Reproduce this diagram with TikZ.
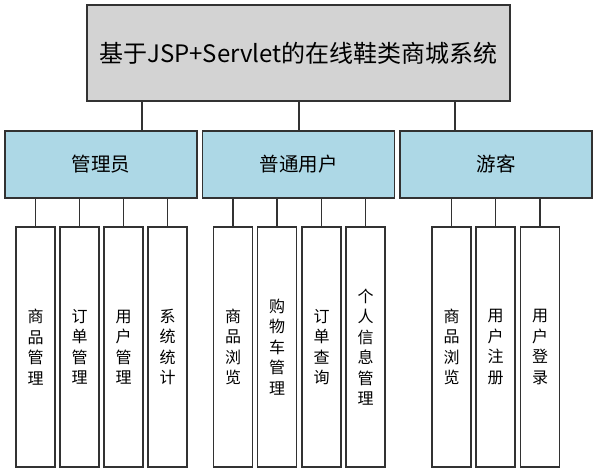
\documentclass[tikz,border=0pt]{standalone}
\usepackage{fontspec}
\setmainfont{Noto Sans CJK SC}
\usepackage{xcolor}
\usepackage{tikz}

\definecolor{topgray}{RGB}{211,211,211}
\definecolor{roleblue}{RGB}{173,216,230}
\definecolor{edgegray}{RGB}{50,50,50}

\tikzset{
    box/.style={draw=edgegray, line width=1.5pt, inner sep=0pt, align=center},
    rolebox/.style={box, fill=roleblue, minimum width=192pt, minimum height=67pt,
        font=\fontsize{19.5}{22}\selectfont},
    leafbox/.style={box, fill=white, minimum width=39pt, minimum height=240pt,
        font=\fontsize{16}{20.5}\selectfont},
    link/.style={draw=edgegray, line width=1.5pt}
}

\begin{document}
\begin{tikzpicture}[x=1pt, y=-1pt]
        \useasboundingbox (0,0) rectangle (597,473);

        \node[box, fill=topgray, minimum width=423pt, minimum height=96pt,
            font=\fontsize{24}{28}\selectfont] (title) at (298.5,53) {基于JSP+Servlet的在线鞋类商城系统};

        \node[rolebox] (admin) at (101,164.5) {管理员};
        \node[rolebox] (user) at (298.5,164.5) {普通用户};
        \node[rolebox] (guest) at (496,164.5) {游客};

        % admin
        \node[leafbox] (a1) at (35.5,347) {商\\品\\管\\理};
        \node[leafbox] (a2) at (79.5,347) {订\\单\\管\\理};
        \node[leafbox] (a3) at (123.5,347) {用\\户\\管\\理};
        \node[leafbox] (a4) at (167.5,347) {系\\统\\统\\计};
        % user
        \node[leafbox] (u1) at (233,347) {商\\品\\浏\\览};
        \node[leafbox] (u2) at (277,347) {购\\物\\车\\管\\理};
        \node[leafbox] (u3) at (321.5,347) {订\\单\\查\\询};
        \node[leafbox] (u4) at (365.5,347) {个\\人\\信\\息\\管\\理};
        % guest
        \node[leafbox] (g1) at (451.5,347) {商\\品\\浏\\览};
        \node[leafbox] (g2) at (495.5,347) {用\\户\\注\\册};
        \node[leafbox] (g3) at (540,347) {用\\户\\登\\录};

        \coordinate (t1) at (142,0);
        \coordinate (t2) at (299,0);
        \coordinate (t3) at (455,0);
        \draw[link] (t1 |- title.south) -- (t1 |- admin.north);
        \draw[link] (t2 |- title.south) -- (t2 |- user.north);
        \draw[link] (t3 |- title.south) -- (t3 |- guest.north);

        \draw[link] (a1.north |- admin.south) -- (a1.north);
        \draw[link] (a2.north |- admin.south) -- (a2.north);
        \draw[link] (a3.north |- admin.south) -- (a3.north);
        \draw[link] (a4.north |- admin.south) -- (a4.north);
        \draw[link] (u1.north |- user.south) -- (u1.north);
        \draw[link] (u2.north |- user.south) -- (u2.north);
        \draw[link] (u3.north |- user.south) -- (u3.north);
        \draw[link] (u4.north |- user.south) -- (u4.north);
        \draw[link] (g1.north |- guest.south) -- (g1.north);
        \draw[link] (g2.north |- guest.south) -- (g2.north);
        \draw[link] (g3.north |- guest.south) -- (g3.north);
    \end{tikzpicture}
\end{document}
